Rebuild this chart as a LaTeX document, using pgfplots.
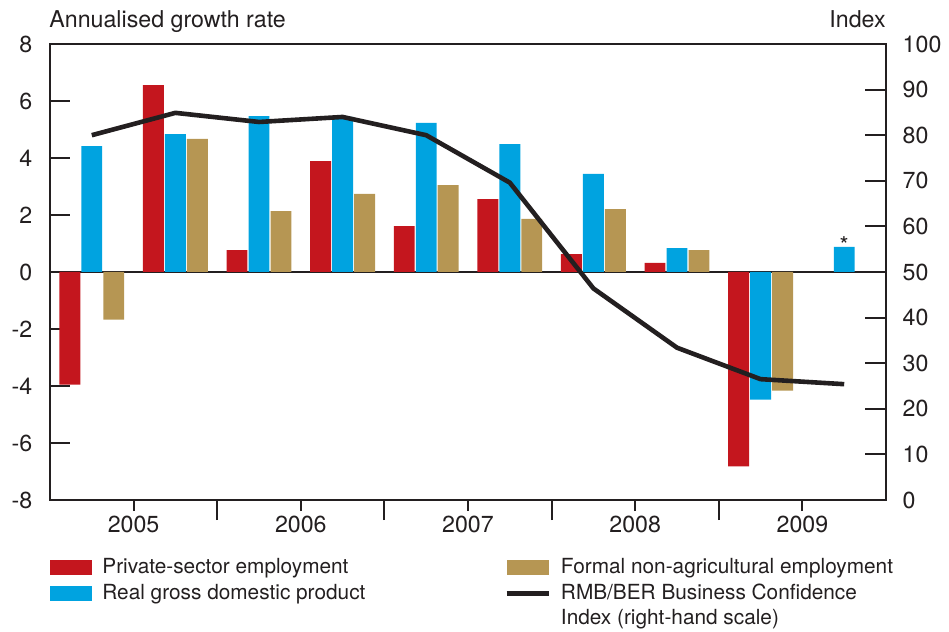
\documentclass[border=0pt]{standalone}
\usepackage{pgfplots}
\pgfplotsset{compat=1.18}
\usepackage{fontspec}
\setmainfont{TeX Gyre Heros}
\definecolor{pred}{RGB}{196,22,30}
\definecolor{pblue}{RGB}{0,163,224}
\definecolor{ptan}{RGB}{182,150,83}
\definecolor{ink}{RGB}{35,31,32}

\begin{document}
\fontsize{11.6}{13.5}\selectfont
\color{ink}
\begin{tikzpicture}
\path[use as bounding box] (-25pt,-66pt) rectangle (449.5pt,250pt);

% bars, left-hand scale
\begin{axis}[
  at={(0pt,0pt)}, anchor=south west,
  width=418pt, height=228pt, scale only axis,
  xmin=0, xmax=10, ymin=-8, ymax=8,
  axis line style={line width=1pt, ink},
  tick style={line width=1pt, ink},
  tick align=inside,
  xtick pos=left, ytick pos=left,
  xtick={2,4,6,8}, xticklabels={},
  minor xtick={1,3,5,7,9},
  major tick length=10pt, minor tick length=5.5pt,
  extra x ticks={1,3,5,7,9},
  extra x tick labels={2005,2006,2007,2008,2009},
  extra x tick style={major tick length=0pt},
  xticklabel style={yshift=-3.8pt},
  ytick={-6,-4,-2,2,4,6},
  extra y ticks={-8,0,8},
  extra y tick style={major tick length=0pt, grid=major,
    major grid style={line width=0.6pt, ink}},
  yticklabel style={xshift=-4.8pt},
  /pgf/number format/assume math mode=true,
  ybar, bar width=0.25, bar shift=0pt,
  legend columns=2, transpose legend,
  legend cell align=left,
  legend style={draw=none, fill=none, inner sep=0pt,
    at={(0,0)}, anchor=north west, yshift=-29pt,
    row sep=3.6pt,
    nodes={inner sep=0pt, font=\fontsize{10.4}{12.2}\selectfont},
    /tikz/every odd column/.append style={column sep=5pt}},
  clip=false,
]
\addplot[fill=pred, draw=none,
  legend image code/.code={\fill[pred] (0pt,-3.75pt) rectangle (21pt,3.75pt);}]
  coordinates {
  (0.237,-3.95) (1.237,6.56) (2.237,0.77) (3.237,3.89) (4.237,1.61)
  (5.237,2.56) (6.237,0.63) (7.237,0.32) (8.237,-6.82)
};
\addlegendentry{\makebox[201pt][l]{Private-sector employment}}
\addplot[fill=pblue, draw=none,
  legend image code/.code={\fill[pblue] (0pt,-3.75pt) rectangle (21pt,3.75pt);}]
  coordinates {
  (0.5,4.42) (1.5,4.84) (2.5,5.47) (3.5,5.44) (4.5,5.23)
  (5.5,4.49) (6.5,3.44) (7.5,0.84) (8.5,-4.48) (9.5,0.88)
};
\addlegendentry{\makebox[201pt][l]{Real gross domestic product}}
\addplot[fill=ptan, draw=none,
  legend image code/.code={\fill[ptan] (0pt,-3.75pt) rectangle (21pt,3.75pt);}]
  coordinates {
  (0.763,-1.67) (1.763,4.67) (2.763,2.14) (3.763,2.74) (4.763,3.05)
  (5.763,1.86) (6.763,2.21) (7.763,0.77) (8.763,-4.16)
};
\addlegendentry{Formal non-agricultural employment}
\addlegendimage{legend image code/.code={\draw[ink, line width=2.3pt] (0pt,0pt) -- (21pt,0pt);}}
\addlegendentry{\parbox[t]{180pt}{\raggedright RMB/BER Business Confidence\\Index (right-hand scale)}}

\node[anchor=base, inner sep=0pt, yshift=-3.5pt] at (axis cs:9.5,0.88) {*};
\node[anchor=base west, inner sep=0pt, xshift=-0.5pt, yshift=8pt] at (rel axis cs:0,1) {Annualised growth rate};
\node[anchor=base east, inner sep=0pt, yshift=8pt] at (rel axis cs:1,1) {Index};
\end{axis}

% confidence index, right-hand scale
\begin{axis}[
  at={(0pt,0pt)}, anchor=south west,
  width=418pt, height=228pt, scale only axis,
  xmin=0, xmax=10, ymin=0, ymax=100,
  hide x axis, axis y line*=right,
  axis line style={line width=1pt, ink},
  tick style={line width=1pt, ink},
  tick align=inside,
  ytick={10,20,30,40,60,70,80,90},
  major tick length=10.5pt,
  extra y ticks={0,50,100},
  extra y tick style={major tick length=0pt},
  yticklabel style={xshift=4.3pt},
  /pgf/number format/assume math mode=true,
]
\addplot[ink, line width=2.3pt, no markers] coordinates {
  (0.5,80.0) (1.5,84.9) (2.5,82.9) (3.5,84.0) (4.5,80.0)
  (5.5,69.6) (6.5,46.4) (7.5,33.4) (8.5,26.5) (9.5,25.4)
};
\end{axis}
\end{tikzpicture}
\end{document}
